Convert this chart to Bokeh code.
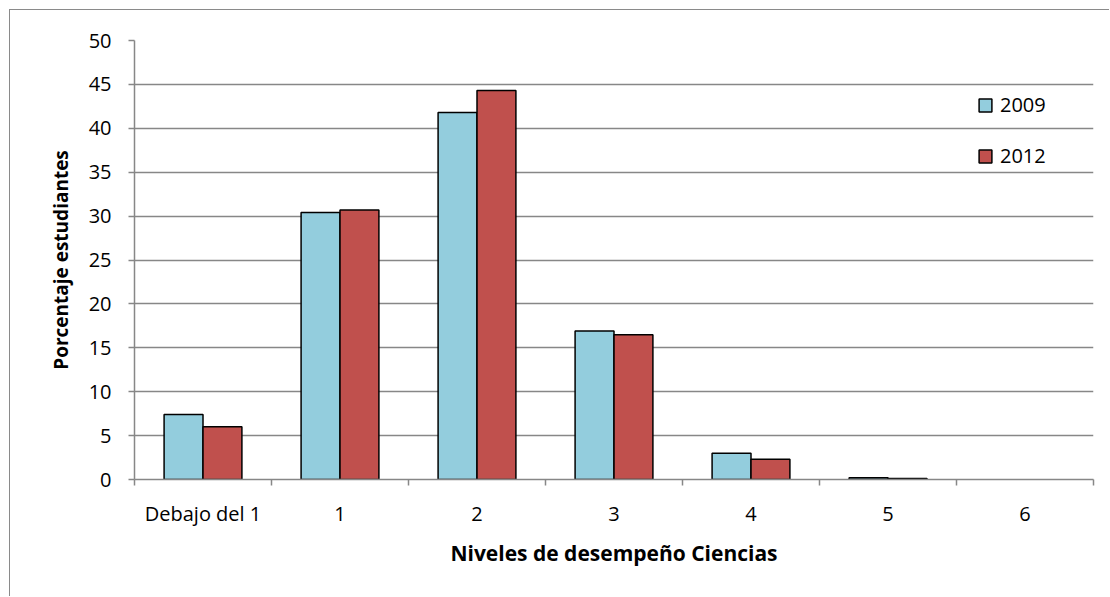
from bokeh.embed import file_html
from bokeh.models import ColumnDataSource, FixedTicker, Legend, LegendItem
from bokeh.plotting import figure
from bokeh.resources import INLINE

# Niveles de desempeño en Ciencias y porcentaje de estudiantes por año
niveles = ["Debajo del 1", "1", "2", "3", "4", "5", "6"]
porcentaje_2009 = [7.4, 30.4, 41.8, 16.9, 3.0, 0.2, 0.0]
porcentaje_2012 = [6.0, 30.7, 44.3, 16.5, 2.3, 0.1, 0.0]
ticks_y = [0, 5, 10, 15, 20, 25, 30, 35, 40, 45, 50]

GRIS = "#878787"
AZUL = "#93CDDD"
ROJO = "#C0504D"
FUENTE = "Open Sans"
ANCHO_BARRA = 0.284

centros = [i + 0.5 for i in range(len(niveles))]
fuente = ColumnDataSource(dict(
    x09=[c - ANCHO_BARRA / 2 for c in centros],
    x12=[c + ANCHO_BARRA / 2 for c in centros],
    v09=porcentaje_2009,
    v12=porcentaje_2012,
    # las barras con valor cero no se dibujan
    b09=["black" if v > 0 else None for v in porcentaje_2009],
    b12=["black" if v > 0 else None for v in porcentaje_2012],
))

p = figure(
    width=1100, height=587,
    x_range=(0, len(niveles)), y_range=(0, 50),
    output_backend="svg", toolbar_location=None,
    min_border_left=124, min_border_right=17,
    min_border_top=30, min_border_bottom=118,
)
p.outline_line_color = None
p.background_fill_color = "white"
p.border_fill_color = "white"
p.styles = {
    "margin-left": "9px",
    "margin-top": "9px",
    "border-left": "1.5px solid #8a8a8a",
    "border-top": "1.5px solid #8a8a8a",
}

r09 = p.vbar(x="x09", top="v09", width=ANCHO_BARRA, source=fuente,
             fill_color=AZUL, line_color="b09", line_width=1.5)
r12 = p.vbar(x="x12", top="v12", width=ANCHO_BARRA, source=fuente,
             fill_color=ROJO, line_color="b12", line_width=1.5)

# Eje Y
p.yaxis.ticker = FixedTicker(ticks=ticks_y)
p.ygrid.ticker = FixedTicker(ticks=ticks_y)
p.ygrid.grid_line_color = GRIS
p.ygrid.grid_line_width = 1.5
p.xgrid.visible = False
p.yaxis.axis_line_color = GRIS
p.yaxis.axis_line_width = 1.5
p.yaxis.major_tick_line_color = GRIS
p.yaxis.major_tick_line_width = 1.5
p.yaxis.major_tick_out = 6
p.yaxis.major_tick_in = 0
p.yaxis.minor_tick_line_color = None
p.yaxis.major_label_standoff = 17
p.yaxis.major_label_text_font = FUENTE
p.yaxis.major_label_text_font_size = "20px"
p.yaxis.major_label_text_color = "black"
p.yaxis.axis_label = "Porcentaje estudiantes"
p.yaxis.axis_label_standoff = 12
p.yaxis.axis_label_text_font = FUENTE
p.yaxis.axis_label_text_font_size = "19px"
p.yaxis.axis_label_text_font_style = "bold"
p.yaxis.axis_label_text_color = "black"

# Eje X: etiquetas en el centro de cada nivel, marcas en los límites
p.xaxis.ticker = FixedTicker(ticks=centros, minor_ticks=list(range(len(niveles) + 1)))
p.xaxis.major_label_overrides = {c: n for c, n in zip(centros, niveles)}
p.xaxis.axis_line_color = GRIS
p.xaxis.axis_line_width = 1.5
p.xaxis.major_tick_line_color = None
p.xaxis.major_tick_out = 0
p.xaxis.major_tick_in = 0
p.xaxis.minor_tick_line_color = GRIS
p.xaxis.minor_tick_line_width = 1.5
p.xaxis.minor_tick_out = 6
p.xaxis.minor_tick_in = 0
p.xaxis.major_label_standoff = 14
p.xaxis.major_label_text_font = FUENTE
p.xaxis.major_label_text_font_size = "20px"
p.xaxis.major_label_text_color = "black"
p.xaxis.axis_label = "Niveles de desempeño Ciencias"
p.xaxis.axis_label_standoff = 9
p.xaxis.axis_label_text_font = FUENTE
p.xaxis.axis_label_text_font_size = "21px"
p.xaxis.axis_label_text_font_style = "bold"
p.xaxis.axis_label_text_color = "black"

leyenda = Legend(
    items=[LegendItem(label="2009", renderers=[r09]),
           LegendItem(label="2012", renderers=[r12])],
    location=(843, 310),
    padding=0, margin=0, spacing=24,
    glyph_width=16, glyph_height=16, label_height=26,
    label_standoff=7,
    border_line_color=None, background_fill_alpha=0,
    label_text_font=FUENTE, label_text_font_size="20px",
    label_text_color="black",
)
p.add_layout(leyenda)

open("out.html", "w").write(file_html(p, INLINE))
